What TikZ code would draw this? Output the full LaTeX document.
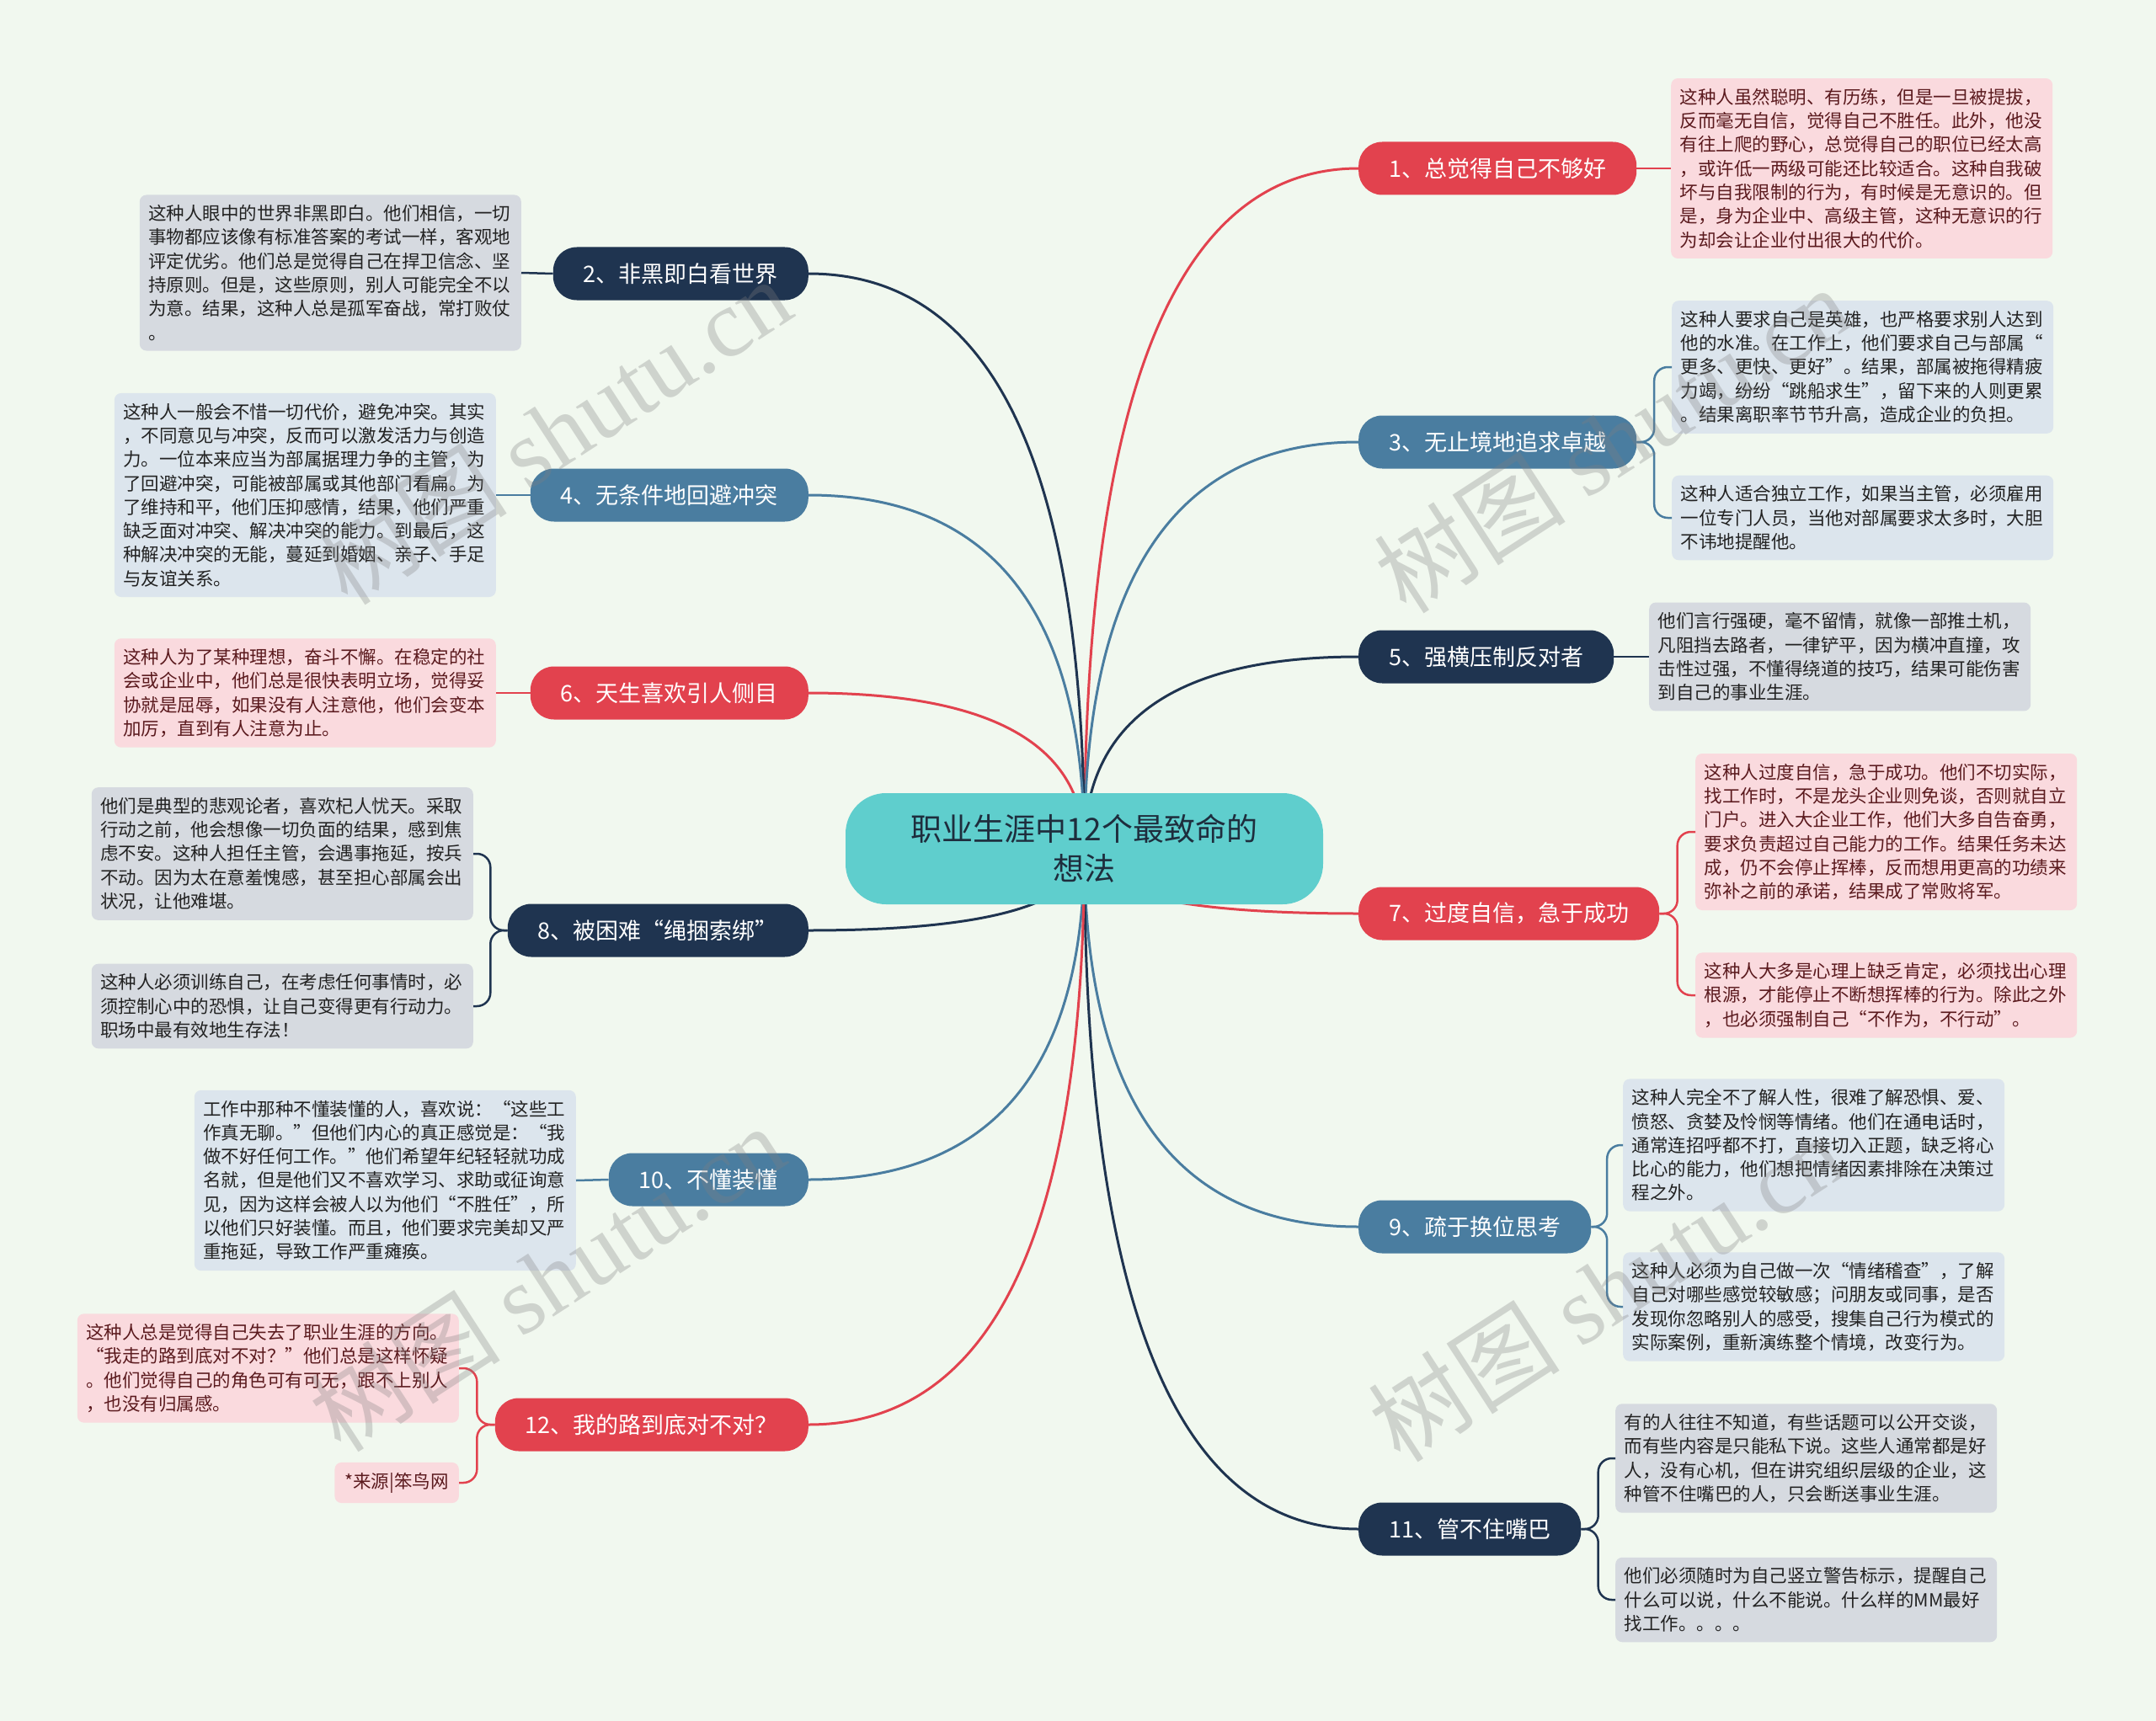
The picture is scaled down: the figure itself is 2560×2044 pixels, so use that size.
\documentclass[tikz,border=0pt]{standalone}
\usepackage{fontspec}
\setmainfont{Noto Sans CJK SC}
\newfontfamily\wmlatin{Liberation Serif}
\usetikzlibrary{calc}
\definecolor{bgc}{HTML}{F1F8EF}
\definecolor{redc}{HTML}{E2424E}
\definecolor{steelc}{HTML}{4A7DA0}
\definecolor{navyc}{HTML}{1F3450}
\definecolor{rootc}{HTML}{5FCECD}
\definecolor{roott}{HTML}{1E2D3D}
\definecolor{pinkf}{HTML}{FADADE}
\definecolor{pinkt}{HTML}{5B1A1E}
\definecolor{bluef}{HTML}{DCE5ED}
\definecolor{greyf}{HTML}{D6DAE0}
\definecolor{darkt}{HTML}{222222}
\pgfdeclarelayer{back}
\pgfdeclarelayer{lines}
\pgfsetlayers{back,lines,main}
\newcommand\leaffont{\fontsize{21.5pt}{28.3pt}\selectfont}
\newcommand\brfont{\fontsize{27pt}{32pt}\selectfont}
\newcommand\rootfont{\fontsize{37pt}{47pt}\selectfont}
\newcommand\wmfont{\fontsize{114pt}{114pt}\selectfont}
\newcommand\rootln[2]{%
  \draw[#1, line width=3pt] (root.center) .. controls ($(root.center)!0.6667!(root.center |- #2)$) and ($(#2)!0.6667!(root.center |- #2)$) .. (#2);}
\newcommand\rbr[3]{\draw[#1, line width=2.5pt, rounded corners=16pt] (#2.east) -- ($(#2.east)!0.5!(#2.east -| #3.west)$) |- (#3.west);}
\newcommand\lbr[3]{\draw[#1, line width=2.5pt, rounded corners=16pt] (#2.west) -- ($(#2.west)!0.5!(#2.west -| #3.east)$) |- (#3.east);}
\tikzset{
  leaf/.style={rounded corners=8pt, text width=432pt, align=left, inner xsep=10.5pt, inner ysep=12pt, font=\leaffont},
  leafpink/.style={leaf, fill=pinkf, text=pinkt},
  leafblue/.style={leaf, fill=bluef, text=darkt},
  leafgrey/.style={leaf, fill=greyf, text=darkt},
  br/.style={rounded corners=28pt, minimum height=63pt, inner xsep=36pt, font=\brfont, text=white},
  brred/.style={br, fill=redc},
  brsteel/.style={br, fill=steelc},
  brnavy/.style={br, fill=navyc},
  rootbox/.style={rounded corners=48pt, minimum width=567pt, minimum height=132pt, align=center, font=\rootfont, fill=rootc, text=roott},
  wm/.style={rotate=33, text=gray, text opacity=0.3, font=\wmfont}
}
\begin{document}
\begin{tikzpicture}[x=1pt,y=-1pt]
\begin{pgfonlayer}{back}
\fill[bgc] (0,0) rectangle (2560,2044);
\end{pgfonlayer}
\useasboundingbox (0,0) rectangle (2560,2044);

% root
\node[rootbox] (root) at (1287.5,1008) {职业生涯中12个最致命的\\想法};

% right branches
\node[brred, anchor=west] (b1) at (1613,200) {1、总觉得自己不够好};
\node[brsteel, anchor=west] (b3) at (1613,525) {3、无止境地追求卓越};
\node[brnavy, anchor=west] (b5) at (1613,780) {5、强横压制反对者};
\node[brred, anchor=west] (b7) at (1613,1085) {7、过度自信，急于成功};
\node[brsteel, anchor=west] (b9) at (1613,1457) {9、疏于换位思考};
\node[brnavy, anchor=west] (b11) at (1613,1816) {11、管不住嘴巴};
% left branches
\node[brnavy, anchor=east] (b2) at (960,325) {2、非黑即白看世界};
\node[brsteel, anchor=east] (b4) at (960,588) {4、无条件地回避冲突};
\node[brred, anchor=east] (b6) at (960,823) {6、天生喜欢引人侧目};
\node[brnavy, anchor=east] (b8) at (960,1105) {8、被困难“绳捆索绑”};
\node[brsteel, anchor=east] (b10) at (960,1401) {10、不懂装懂};
\node[brred, anchor=east] (b12) at (960,1692) {12、我的路到底对不对？};

% right leaves
\node[leafpink, anchor=west] (l1) at (1984,200) {这种人虽然聪明、有历练，但是一旦被提拔，\\反而毫无自信，觉得自己不胜任。此外，他没\\有往上爬的野心，总觉得自己的职位已经太高\\，或许低一两级可能还比较适合。这种自我破\\坏与自我限制的行为，有时候是无意识的。但\\是，身为企业中、高级主管，这种无意识的行\\为却会让企业付出很大的代价。};
\node[leafblue, anchor=west] (l3a) at (1985,436) {这种人要求自己是英雄，也严格要求别人达到\\他的水准。在工作上，他们要求自己与部属“\\更多、更快、更好”。结果，部属被拖得精疲\\力竭，纷纷“跳船求生”，留下来的人则更累\\。结果离职率节节升高，造成企业的负担。};
\node[leafblue, anchor=west] (l3b) at (1985,615) {这种人适合独立工作，如果当主管，必须雇用\\一位专门人员，当他对部属要求太多时，大胆\\不讳地提醒他。};
\node[leafgrey, anchor=west] (l5) at (1958,780) {他们言行强硬，毫不留情，就像一部推土机，\\凡阻挡去路者，一律铲平，因为横冲直撞，攻\\击性过强，不懂得绕道的技巧，结果可能伤害\\到自己的事业生涯。};
\node[leafpink, anchor=west] (l7a) at (2013,988) {这种人过度自信，急于成功。他们不切实际，\\找工作时，不是龙头企业则免谈，否则就自立\\门户。进入大企业工作，他们大多自告奋勇，\\要求负责超过自己能力的工作。结果任务未达\\成，仍不会停止挥棒，反而想用更高的功绩来\\弥补之前的承诺，结果成了常败将军。};
\node[leafpink, anchor=west] (l7b) at (2013,1182) {这种人大多是心理上缺乏肯定，必须找出心理\\根源，才能停止不断想挥棒的行为。除此之外\\，也必须强制自己“不作为，不行动”。};
\node[leafblue, anchor=west] (l9a) at (1927,1360) {这种人完全不了解人性，很难了解恐惧、爱、\\愤怒、贪婪及怜悯等情绪。他们在通电话时，\\通常连招呼都不打，直接切入正题，缺乏将心\\比心的能力，他们想把情绪因素排除在决策过\\程之外。};
\node[leafblue, anchor=west] (l9b) at (1927,1552) {这种人必须为自己做一次“情绪稽查”，了解\\自己对哪些感觉较敏感；问朋友或同事，是否\\发现你忽略别人的感受，搜集自己行为模式的\\实际案例，重新演练整个情境，改变行为。};
\node[leafgrey, anchor=west] (l11a) at (1918,1732) {有的人往往不知道，有些话题可以公开交谈，\\而有些内容是只能私下说。这些人通常都是好\\人，没有心机，但在讲究组织层级的企业，这\\种管不住嘴巴的人，只会断送事业生涯。};
\node[leafgrey, anchor=west] (l11b) at (1918,1900) {他们必须随时为自己竖立警告标示，提醒自己\\什么可以说，什么不能说。什么样的MM最好\\找工作。。。。};

% left leaves
\node[leafgrey, anchor=east] (l2) at (619,324) {这种人眼中的世界非黑即白。他们相信，一切\\事物都应该像有标准答案的考试一样，客观地\\评定优劣。他们总是觉得自己在捍卫信念、坚\\持原则。但是，这些原则，别人可能完全不以\\为意。结果，这种人总是孤军奋战，常打败仗\\。};
\node[leafblue, anchor=east] (l4) at (589,588) {这种人一般会不惜一切代价，避免冲突。其实\\，不同意见与冲突，反而可以激发活力与创造\\力。一位本来应当为部属据理力争的主管，为\\了回避冲突，可能被部属或其他部门看扁。为\\了维持和平，他们压抑感情，结果，他们严重\\缺乏面对冲突、解决冲突的能力。到最后，这\\种解决冲突的无能，蔓延到婚姻、亲子、手足\\与友谊关系。};
\node[leafpink, anchor=east] (l6) at (589,823) {这种人为了某种理想，奋斗不懈。在稳定的社\\会或企业中，他们总是很快表明立场，觉得妥\\协就是屈辱，如果没有人注意他，他们会变本\\加厉，直到有人注意为止。};
\node[leafgrey, anchor=east] (l8a) at (562,1014) {他们是典型的悲观论者，喜欢杞人忧天。采取\\行动之前，他会想像一切负面的结果，感到焦\\虑不安。这种人担任主管，会遇事拖延，按兵\\不动。因为太在意羞愧感，甚至担心部属会出\\状况，让他难堪。};
\node[leafgrey, anchor=east] (l8b) at (562,1195) {这种人必须训练自己，在考虑任何事情时，必\\须控制心中的恐惧，让自己变得更有行动力。\\职场中最有效地生存法！};
\node[leafblue, anchor=east] (l10) at (684,1402) {工作中那种不懂装懂的人，喜欢说：“这些工\\作真无聊。”但他们内心的真正感觉是：“我\\做不好任何工作。”他们希望年纪轻轻就功成\\名就，但是他们又不喜欢学习、求助或征询意\\见，因为这样会被人以为他们“不胜任”，所\\以他们只好装懂。而且，他们要求完美却又严\\重拖延，导致工作严重瘫痪。};
\node[leafpink, anchor=east] (l12a) at (545,1625) {这种人总是觉得自己失去了职业生涯的方向。\\“我走的路到底对不对？”他们总是这样怀疑\\。他们觉得自己的角色可有可无，跟不上别人\\，也没有归属感。};
\node[leafpink, anchor=east, text width=, align=left, inner xsep=12pt] (l12b) at (545,1761) {*来源|笨鸟网};

% connectors
\begin{pgfonlayer}{lines}
\rootln{redc}{b1.west}
\rootln{steelc}{b3.west}
\rootln{navyc}{b5.west}
\rootln{redc}{b7.west}
\rootln{steelc}{b9.west}
\rootln{navyc}{b11.west}
\rootln{navyc}{b2.east}
\rootln{steelc}{b4.east}
\rootln{redc}{b6.east}
\rootln{navyc}{b8.east}
\rootln{steelc}{b10.east}
\rootln{redc}{b12.east}
\end{pgfonlayer}

\draw[redc, line width=2.5pt] (b1.east) -- (l1.west);
\rbr{steelc}{b3}{l3a}
\rbr{steelc}{b3}{l3b}
\draw[navyc, line width=2.5pt] (b5.east) -- (l5.west);
\rbr{redc}{b7}{l7a}
\rbr{redc}{b7}{l7b}
\rbr{steelc}{b9}{l9a}
\rbr{steelc}{b9}{l9b}
\rbr{navyc}{b11}{l11a}
\rbr{navyc}{b11}{l11b}
\draw[navyc, line width=2.5pt] (b2.west) -- (l2.east);
\draw[steelc, line width=2.5pt] (b4.west) -- (l4.east);
\draw[redc, line width=2.5pt] (b6.west) -- (l6.east);
\lbr{navyc}{b8}{l8a}
\lbr{navyc}{b8}{l8b}
\draw[steelc, line width=2.5pt] (b10.west) -- (l10.east);
\lbr{redc}{b12}{l12a}
\lbr{redc}{b12}{l12b}

% watermarks
\node[wm] (w1) at (657,512) {树图 {\wmlatin shutu.cn}};
\node[wm] (w2) at (1914,522) {树图 {\wmlatin shutu.cn}};
\node[wm] (w3) at (649,1518) {树图 {\wmlatin shutu.cn}};
\node[wm] (w4) at (1907,1530) {树图 {\wmlatin shutu.cn}};
\end{tikzpicture}
\end{document}
